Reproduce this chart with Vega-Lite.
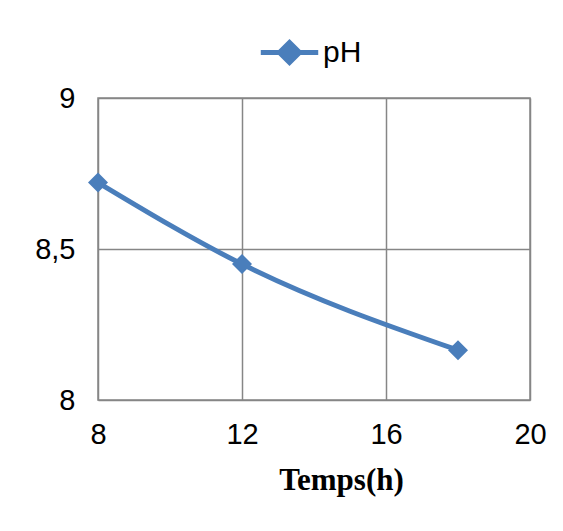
{
  "$schema": "https://vega.github.io/schema/vega-lite/v6.json",
  "width": 432,
  "height": 302,
  "autosize": {"type": "none"},
  "padding": {"left": 98, "top": 98, "right": 33, "bottom": 131},
  "background": "white",
  "config": {
    "view": {"stroke": "#868686", "strokeWidth": 1.5},
    "axis": {
      "domain": false,
      "ticks": false,
      "grid": true,
      "gridColor": "#868686",
      "gridWidth": 1.5,
      "gridOpacity": 1,
      "labelFont": "Liberation Sans",
      "labelFontSize": 29,
      "labelColor": "#000000",
      "labelFlush": false
    }
  },
  "data": {
    "values": [
      {"t": 8, "pH": 8.72, "series": "pH"},
      {"t": 12, "pH": 8.45, "series": "pH"},
      {"t": 18, "pH": 8.165, "series": "pH"}
    ]
  },
  "encoding": {
    "x": {
      "field": "t",
      "type": "quantitative",
      "scale": {"domain": [8, 20], "nice": false, "zero": false},
      "axis": {
        "values": [8, 12, 16, 20],
        "labelPadding": 20,
        "title": "Temps(h)",
        "titleFont": "Liberation Serif",
        "titleFontSize": 31,
        "titleFontWeight": "bold",
        "titleColor": "#000000",
        "titlePadding": 16,
        "titleX": 243,
        "titleAlign": "center"
      }
    },
    "y": {
      "field": "pH",
      "type": "quantitative",
      "scale": {"domain": [8, 9], "nice": false, "zero": false},
      "axis": {
        "values": [8, 8.5, 9],
        "format": "~g",
        "labelExpr": "replace(datum.label, '.', ',')",
        "labelPadding": 23,
        "title": null
      }
    },
    "color": {
      "field": "series",
      "type": "nominal",
      "scale": {"range": ["#4A7EBB"]},
      "legend": {
        "title": null,
        "orient": "none",
        "legendX": 160,
        "legendY": -77,
        "symbolType": "M-1,0L1,0M0,-0.35L0.35,0L0,0.35L-0.35,0Z",
        "symbolSize": 3300,
        "symbolStrokeWidth": 5,
        "symbolFillColor": "#4A7EBB",
        "symbolStrokeColor": "#4A7EBB",
        "labelFont": "Liberation Sans",
        "labelFontSize": 30,
        "labelColor": "#000000",
        "labelOffset": 2
      }
    }
  },
  "layer": [
    {"mark": {"type": "line", "interpolate": "monotone", "strokeWidth": 5}},
    {"mark": {"type": "point", "shape": "diamond", "filled": true, "size": 400, "opacity": 1}}
  ]
}
